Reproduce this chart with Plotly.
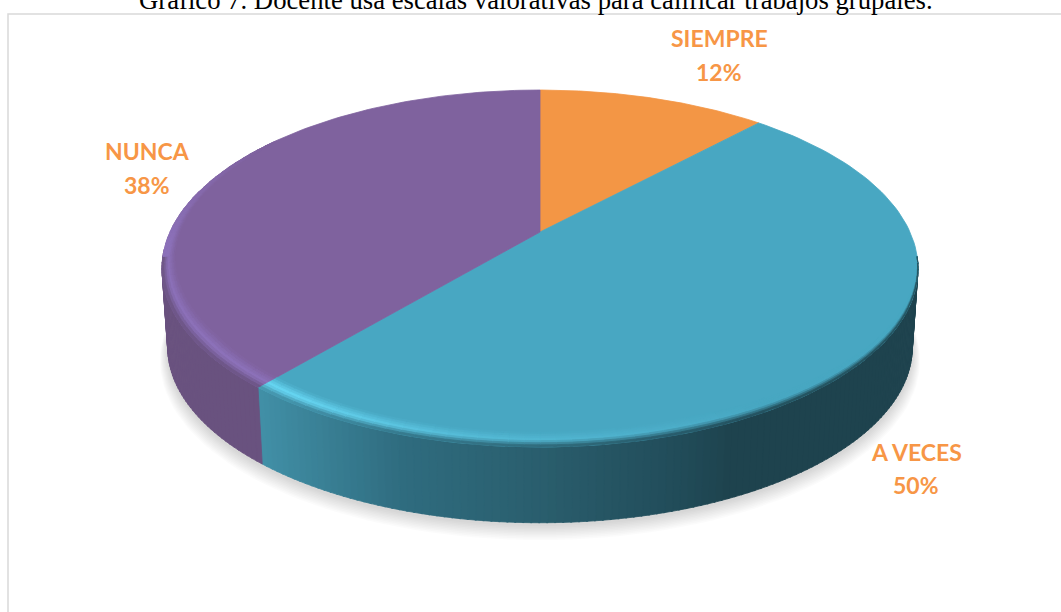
import numpy as np
import plotly.graph_objects as go

# Data
categories = ['SIEMPRE', 'A VECES', 'NUNCA']
percent_labels = [12, 50, 38]
# slice sizes as measured on the drawn pie (the printed labels are rounded)
slice_sizes = [11.9, 49.2, 38.9]
title_text = 'Gráfico 7. Docente usa escalas valorativas para calificar trabajos grupales.'

face_colors = ['#F39645', '#48A7C2', '#7F629E']
label_color = '#F79646'
label_pos = [(719, 38, 72), (916, 452, 485), (147, 151, 185)]

# Pie geometry on the page (pixels), perspective of a tilted disc
cx, cy = 540, 232
rad_x, rad_y, persp = 370, 171, 0.2045
wall_dy, wall_scale = 79, 0.985


def project(theta, r=1.0, dy=0.0, scale=1.0):
    t = np.radians(theta)
    u, v = r * np.sin(t), r * np.cos(t)
    d = 1 + persp * v
    return cx + scale * rad_x * u / d, cy + dy - scale * rad_y * v / d


def hex_rgb(c):
    return np.array([int(c[i:i + 2], 16) for i in (1, 3, 5)], dtype=float)


def mix(a, b, t):
    return a + (b - a) * min(max(t, 0), 1)


def css(c):
    return 'rgb(%d,%d,%d)' % tuple(np.round(c))


def wall_color(theta, x):
    # side wall shading depends on the slice and runs left to right
    if theta > bounds[2]:
        return hex_rgb('#69527F')
    xs = [260, 400, 540, 680, 730, 920]
    stops = ['#418FA6', '#2F6C7F', '#2A5E6D', '#214C59', '#1E434E', '#1E434E']
    vals = np.array([hex_rgb(s) for s in stops])
    return np.array([np.interp(x, xs, vals[:, i]) for i in range(3)])


def light_amount(theta):
    # bright bevel on the front left, gone towards the right
    if theta > bounds[2]:
        return np.interp(theta, [bounds[2], 265, 305], [0.75, 0.7, 0.0])
    return np.interp(theta, [150, 190, 215, bounds[2]], [0.0, 0.45, 1.0, 1.0])


def bevel_width(theta):
    return np.interp(theta, [98, 125, 160, 235, 262, 305], [0.0, 0.4, 1.0, 1.0, 0.55, 0.2])


def add_poly(fig, xs, ys, color):
    fig.add_trace(go.Scatter(
        x=xs, y=ys, mode='lines', fill='toself', fillcolor=color,
        line=dict(color=color, width=0.8), hoverinfo='skip', showlegend=False,
    ))


bounds = [sum(slice_sizes[:i]) * 3.6 for i in range(len(slice_sizes) + 1)]
highlights = ['#F39645', '#68D8F5', '#9278C6']

fig = go.Figure()

# Soft shadow under the disc
ring = np.linspace(0, 360, 181)
for i in range(10):
    sx, sy = project(ring, r=1.02 - i * 0.002, dy=wall_dy + 12 - i, scale=wall_scale)
    fig.add_trace(go.Scatter(
        x=sx, y=sy, mode='lines', fill='toself', fillcolor='rgba(0,0,0,0.014)',
        line=dict(width=0), hoverinfo='skip', showlegend=False,
    ))

# Side wall, drawn as thin strips
wall_angles = np.arange(98, 264, 1.0)
for a in wall_angles:
    pair = np.array([a, a + 1.2])
    x1, y1 = project(pair)
    x2, y2 = project(pair, dy=wall_dy, scale=wall_scale)
    xs = list(x1) + list(x2[::-1]) + [x1[0]]
    ys = list(y1) + list(y2[::-1]) + [y1[0]]
    add_poly(fig, xs, ys, css(wall_color(a + 0.6, x1.mean())))

# Top of each slice
for i, color in enumerate(face_colors):
    arc = np.linspace(bounds[i], bounds[i + 1], 120)
    px, py = project(arc)
    add_poly(fig, [cx] + list(px) + [cx], [cy] + list(py) + [cy], color)

# Bevel along the rim of the top
n_bands = 7
for a in np.arange(98, 305, 2.0):
    i = 1 if a < bounds[2] else 2
    face = hex_rgb(face_colors[i])
    high = hex_rgb(highlights[i])
    peak = mix(face, high, light_amount(a + 1))
    inner = 1 - 0.055 * bevel_width(a + 1)
    end = min(a + 2.3, bounds[2]) if a < bounds[2] else a + 2.3
    arc = np.array([a, end])
    for b in range(n_bands):
        t = (b + 0.5) / n_bands
        xa, ya = project(arc, r=inner + (1 - inner) * b / n_bands)
        xb, yb = project(arc, r=inner + (1 - inner) * (b + 1) / n_bands)
        if t < 0.55:
            col = mix(face, peak, t / 0.55)
        elif a < 262:
            col = mix(peak, wall_color(a + 1, xa.mean()), (t - 0.55) / 0.45)
        else:
            col = peak
        xs = list(xa) + list(xb[::-1]) + [xa[0]]
        ys = list(ya) + list(yb[::-1]) + [ya[0]]
        add_poly(fig, xs, ys, css(col))

# Labels
for name, share, (lx, y1, y2) in zip(categories, percent_labels, label_pos):
    for text, ly in ((name, y1), ('%d%%' % share, y2)):
        fig.add_annotation(
            x=lx, y=ly, text=text, showarrow=False, xanchor='center', yanchor='middle',
            font=dict(family='Lato', size=23, color=label_color, weight='bold'),
        )

fig.add_annotation(
    x=536, y=0, text=title_text, showarrow=False, xanchor='center', yanchor='middle',
    font=dict(family='Liberation Serif', size=26.7, color='#000000'),
)

fig.update_layout(
    width=1061,
    height=612,
    margin=dict(l=0, r=0, t=0, b=0),
    paper_bgcolor='white',
    plot_bgcolor='white',
    showlegend=False,
    xaxis=dict(range=[0, 1061], visible=False, fixedrange=True),
    yaxis=dict(range=[612, 0], visible=False, fixedrange=True),
    shapes=[dict(type='rect', xref='x', yref='y', x0=8, y0=14, x1=1075, y1=630,
                 line=dict(color='#D9D9D9', width=1.5), layer='below')],
)

fig.write_html('out.html', config=dict(displayModeBar=False),
               post_script="document.body.style.margin='0';document.body.style.overflow='hidden';")
